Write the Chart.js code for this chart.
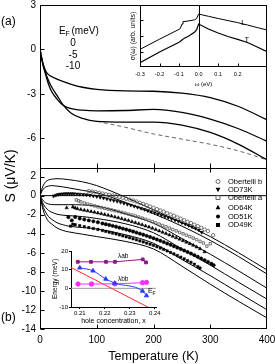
<!DOCTYPE html>
<html>
<head>
<meta charset="utf-8">
<script src="https://cdn.jsdelivr.net/npm/chart.js@4.4.1/dist/chart.umd.min.js"></script>
<style>
  html, body { margin: 0; padding: 0; background: #fff; }
  #wrap { position: relative; width: 275px; height: 364px; overflow: hidden; }
  canvas { position: absolute; }
  #main { left: 0; top: 0; }
  #insA { left: 125px; top: 0; }
  #insB { left: 40px; top: 240px; }
</style>
</head>
<body>
<div id="wrap">
  <canvas id="main" width="275" height="364" style="width:275px;height:364px"></canvas>
  <canvas id="insA" width="150" height="90" style="width:150px;height:90px"></canvas>
  <canvas id="insB" width="130" height="88" style="width:130px;height:88px"></canvas>
</div>
<script>
// ---- panel (a): theory curves, E_F = 0, -5, -10 meV
const T_A = [0, 3, 6, 10, 15, 20, 30, 40, 55, 75, 100, 150, 200, 250, 300, 350, 400];
const SA_0 = [0, -0.6, -1.05, -1.45, -1.7, -1.82, -2.0, -2.15, -2.35, -2.55, -2.7, -2.8, -2.82, -2.95, -3.25, -3.85, -4.75];
const SA_5 = [0, -0.6, -1.15, -1.7, -2.35, -2.8, -3.35, -3.75, -4.0, -4.1, -4.14, -4.12, -4.05, -4.25, -4.7, -5.35, -6.2];
const SA_10 = [0, -0.6, -1.1, -1.6, -2.1, -2.5, -3.1, -3.7, -4.3, -4.65, -4.85, -4.9, -4.9, -5.1, -5.6, -6.4, -7.45];
const T_DASH = [100, 150, 200, 250, 300, 350, 400];
const S_DASH = [-4.85, -5.25, -5.7, -6.05, -6.4, -6.85, -7.45];

// ---- panel (b): fitted curves
const T_B = [0, 3, 6, 10, 15, 20, 30, 40, 50, 75, 100, 150, 200, 250, 300, 350, 400];
const SB_1 = [0, 0.65, 1.1, 1.45, 1.65, 1.72, 1.78, 1.75, 1.68, 1.45, 1.05, -0.15, -1.5, -2.85, -4.3, -6.0, -7.8];
const SB_2 = [0, 0.4, 0.7, 0.9, 1.0, 1.05, 1.0, 0.92, 0.82, 0.55, 0.3, -0.7, -1.9, -3.2, -4.7, -6.4, -8.23];
const SB_3 = [0, -0.3, -0.55, -0.75, -0.88, -0.93, -0.95, -0.95, -0.95, -0.98, -1.1, -1.9, -2.9, -4.5, -6.15, -7.9, -9.72];
const SB_4 = [0, -0.5, -0.9, -1.25, -1.55, -1.72, -1.95, -2.05, -2.1, -2.2, -2.4, -2.95, -3.9, -5.6, -7.3, -9.1, -10.86];
const SB_5 = [0, -0.7, -1.25, -1.75, -2.2, -2.45, -2.85, -3.05, -3.2, -3.35, -3.5, -4.1, -5.0, -6.7, -8.4, -10.2, -11.98];
const SB_6 = [0, -0.9, -1.6, -2.2, -2.7, -2.95, -3.4, -3.65, -3.8, -4.05, -4.3, -4.8, -5.6, -7.4, -9.3, -11.1, -12.84];
const ZERO_T = [0, 400];
const ZERO_S = [0, 0];

// ---- panel (b): measured thermopower
const T_OBB = [86, 92, 98, 104, 110, 116, 122, 128, 134, 140, 146, 152, 158, 164, 170, 176, 182, 188, 194, 200, 206, 212, 218, 224, 230, 236, 242, 248, 254, 260, 266, 272, 278, 284, 290, 296, 305];
const S_OBB = [0.48, 0.42, 0.37, 0.30, 0.22, 0.15, 0.08, 0.02, -0.07, -0.15, -0.22, -0.33, -0.42, -0.52, -0.62, -0.76, -0.88, -1.0, -1.15, -1.28, -1.42, -1.55, -1.68, -1.85, -1.98, -2.12, -2.28, -2.42, -2.58, -2.75, -2.88, -3.05, -3.2, -3.38, -3.55, -3.72, -4.15];
const T_73 = [24, 28, 32, 36, 40, 44, 48, 52, 56, 60, 65, 70, 76, 82, 88, 94, 100, 106, 112, 118, 124, 130, 136, 142, 148, 154, 160, 166, 172, 178, 184, 190, 196, 202, 208, 214, 220, 226, 232, 238, 244, 250, 256, 262, 268, 274, 280, 285];
const S_73 = [-0.05, 0.05, 0.12, 0.16, 0.18, 0.2, 0.21, 0.2, 0.2, 0.19, 0.17, 0.15, 0.12, 0.08, 0.03, -0.03, -0.1, -0.18, -0.26, -0.34, -0.43, -0.52, -0.6, -0.7, -0.8, -0.9, -1.0, -1.11, -1.22, -1.33, -1.44, -1.56, -1.68, -1.8, -1.92, -2.05, -2.18, -2.3, -2.44, -2.57, -2.7, -2.84, -2.98, -3.12, -3.27, -3.42, -3.6, -3.85];
const T_OBA = [64, 68, 72, 78, 84, 90, 96, 102, 108, 114, 120, 126, 132, 138, 144, 150, 156, 162, 168, 174, 180, 186, 192, 198, 204, 210, 216, 222, 228, 234, 240, 246, 252, 258, 264, 270, 276, 282, 288, 294, 300];
const S_OBA = [-0.45, -0.55, -0.65, -0.78, -0.88, -0.98, -1.08, -1.18, -1.26, -1.34, -1.42, -1.5, -1.58, -1.66, -1.75, -1.84, -1.94, -2.04, -2.14, -2.25, -2.36, -2.48, -2.6, -2.73, -2.86, -2.99, -3.13, -3.27, -3.41, -3.56, -3.7, -3.85, -4.0, -4.15, -4.3, -4.46, -4.62, -4.8, -4.98, -5.3, -5.05];
const T_64 = [47, 58, 62, 66, 72, 78, 84, 90, 96, 102, 108, 114, 120, 126, 132, 138, 144, 150, 156, 162, 168, 174, 180, 186, 192, 198, 204, 210, 216, 222, 228, 234, 240, 246, 252, 258, 264, 270, 276, 282, 290];
const S_64 = [-1.28, -1.2, -1.3, -1.38, -1.46, -1.53, -1.6, -1.67, -1.74, -1.82, -1.9, -1.98, -2.06, -2.15, -2.24, -2.33, -2.42, -2.52, -2.62, -2.73, -2.84, -2.95, -3.06, -3.18, -3.3, -3.43, -3.56, -3.7, -3.84, -3.98, -4.12, -4.27, -4.42, -4.57, -4.73, -4.89, -5.05, -5.22, -5.4, -5.58, -5.9];
const T_51 = [50, 56, 62, 70, 78, 86, 94, 102, 110, 116, 122, 128, 134, 140, 146, 152, 158, 164, 170, 176, 182, 188, 194, 200, 206, 212, 218, 224, 230, 236, 242, 248, 254, 260, 266, 272, 278, 284, 290, 296, 302, 306];
const S_51 = [-2.26, -2.6, -2.25, -2.4, -2.5, -2.6, -2.7, -2.8, -2.92, -3.0, -3.08, -3.17, -3.26, -3.36, -3.46, -3.56, -3.66, -3.77, -3.88, -3.99, -4.1, -4.22, -4.34, -4.47, -4.6, -4.74, -4.88, -5.02, -5.16, -5.31, -5.46, -5.61, -5.76, -5.92, -6.08, -6.25, -6.42, -6.6, -6.78, -6.96, -7.15, -7.3];
const T_49 = [54, 58, 62, 70, 78, 86, 94, 102, 110, 116, 122, 128, 134, 140, 146, 152, 158, 164, 170, 176, 182, 188, 194, 200, 206, 212, 218, 224, 230, 236, 242, 248, 254, 260, 266, 272, 278, 282];
const S_49 = [-3.2, -3.0, -3.05, -3.15, -3.25, -3.35, -3.45, -3.55, -3.66, -3.75, -3.84, -3.93, -4.02, -4.12, -4.22, -4.32, -4.42, -4.53, -4.64, -4.75, -4.86, -4.98, -5.1, -5.22, -5.36, -5.5, -5.65, -5.8, -5.96, -6.12, -6.29, -6.46, -6.64, -6.82, -7.0, -7.2, -7.45, -7.6];
const SAMPLES = ['Obertelli b', 'OD73K', 'Obertelli a', 'OD64K', 'OD51K', 'OD49K'];

// ---- inset (a): optical conductivity
const W_L = [-0.3, -0.2, -0.1, -0.094, -0.085, -0.08, -0.05, -0.02, -0.01, 0, 0.05, 0.1, 0.15, 0.2, 0.25, 0.3, 0.35];
const SIG_L = [1.16, 1.8, 2.42, 2.47, 2.75, 2.9, 2.95, 3.02, 3.1, 3.38, 3.24, 3.1, 2.97, 2.84, 2.69, 2.53, 2.38];
const W_T = [-0.3, -0.2, -0.1, -0.09, -0.075, -0.05, -0.02, -0.01, 0, 0.05, 0.1, 0.15, 0.2, 0.25, 0.3, 0.35];
const SIG_T = [0.32, 0.99, 1.6, 1.7, 1.85, 2.0, 2.25, 2.4, 2.75, 2.44, 2.19, 1.97, 1.79, 1.59, 1.31, 1.01];

// ---- inset (b): energies vs hole concentration
const X_AB = [0.2092, 0.2145, 0.2205, 0.2241, 0.2352, 0.2365];
const E_AB = [14.2, 14.2, 14.2, 14.2, 15.5, 13.9];
const X_BB = [0.2093, 0.2147, 0.224, 0.2351, 0.2367];
const E_BB = [2.3, 2.3, 2.4, 3.0, 3.2];
const X_EF = [0.21, 0.2153, 0.2204, 0.224, 0.2351, 0.2367];
const E_EF = [11.0, 9.4, 5.0, 2.8, -1.4, -3.9];
const X_RED = [0.2065, 0.2372];
const E_RED = [11.2, -10];
const X_ZERO = [0.2065, 0.2405];
const E_ZERO = [0, 0];

// ---- ticks
const T_TICKS = [0, 100, 200, 300, 400];
const A_TICKS = [3, 0, -3, -6];
const B_TICKS = [2, 0, -2, -4, -6, -8, -10, -12, -14];
const W_TICKS = [-0.3, -0.2, -0.1, 0, 0.1, 0.2];
const SIG_TICKS = [1, 2, 3];
const XB_TICKS = [0.21, 0.22, 0.23, 0.24];
const EB_TICKS = [-10, 0, 10, 20];

const FONT = "'Liberation Sans', Arial, Helvetica, sans-serif";
Chart.defaults.font.family = FONT;
Chart.defaults.color = '#000';
Chart.defaults.animation = false;

const xy = (xs, ys) => xs.map((x, i) => ({ x, y: ys[i] }));
const setTicks = (vals) => (s) => { s.ticks = vals.map((v) => ({ value: v })); };
const fix = (w, h) => (s) => {
  if (w != null) s.width = w;
  if (h != null) s.height = h;
  s.paddingLeft = s.paddingRight = s.paddingTop = s.paddingBottom = 0;
};

const curve = (label, xs, ys, axis, extra) => Object.assign({
  label, data: xy(xs, ys), yAxisID: axis, showLine: true,
  borderColor: '#000', borderWidth: 1, pointRadius: 0,
  cubicInterpolationMode: 'monotone',
}, extra);

const STYLE = {
  'Obertelli b': { pointStyle: 'circle', rotation: 0, open: true },
  'OD73K': { pointStyle: 'triangle', rotation: 180, open: false },
  'Obertelli a': { pointStyle: 'rect', rotation: 0, open: true },
  'OD64K': { pointStyle: 'triangle', rotation: 0, open: false },
  'OD51K': { pointStyle: 'circle', rotation: 0, open: false },
  'OD49K': { pointStyle: 'rect', rotation: 0, open: false },
};
const marks = (label, xs, ys) => {
  const st = STYLE[label];
  return {
    label, data: xy(xs, ys), yAxisID: 'yb', showLine: false,
    pointStyle: st.pointStyle, pointRotation: st.rotation,
    pointRadius: st.pointStyle === 'triangle' ? 2 : 1.7,
    pointBorderWidth: st.open ? 0.8 : 0.5,
    pointBorderColor: st.open ? '#555' : '#000',
    pointBackgroundColor: st.open ? 'rgba(0,0,0,0)' : '#000',
  };
};

function marker(ctx, style, x, y, r) {
  ctx.save();
  ctx.translate(x, y);
  if (style.rotation) ctx.rotate(style.rotation * Math.PI / 180);
  ctx.beginPath();
  if (style.pointStyle === 'circle') ctx.arc(0, 0, r, 0, Math.PI * 2);
  else if (style.pointStyle === 'rect') ctx.rect(-r, -r, 2 * r, 2 * r);
  else { ctx.moveTo(0, -r * 1.15); ctx.lineTo(r, r * 0.75); ctx.lineTo(-r, r * 0.75); ctx.closePath(); }
  if (style.open) { ctx.strokeStyle = '#444'; ctx.lineWidth = 0.8; ctx.stroke(); }
  else { ctx.fillStyle = '#000'; ctx.fill(); }
  ctx.restore();
}

function text(ctx, s, x, y, size, align, rot) {
  ctx.save();
  ctx.font = size + 'px ' + FONT;
  ctx.fillStyle = '#000';
  ctx.textAlign = align || 'left';
  ctx.textBaseline = 'middle';
  ctx.translate(x, y);
  if (rot) ctx.rotate(rot);
  ctx.fillText(s, 0, 0);
  ctx.restore();
}

const mainDecor = {
  id: 'mainDecor',
  afterDatasetsDraw(chart) {
    const { ctx, chartArea: a, scales: { x, ya, yb } } = chart;
    const L = Math.round(a.left) + 0.5, R = Math.round(a.right) - 0.5;
    const T = Math.round(a.top) + 0.5, B = Math.round(a.bottom) - 0.5;
    const sep = Math.round(ya.bottom) + 0.5;
    const seg = (x1, y1, x2, y2) => { ctx.beginPath(); ctx.moveTo(x1, y1); ctx.lineTo(x2, y2); ctx.stroke(); };
    ctx.save();
    ctx.strokeStyle = '#000';
    ctx.lineWidth = 1;
    ctx.strokeRect(L, T, R - L, B - T);
    seg(L, sep, R, sep);
    T_TICKS.slice(1, -1).forEach((v) => {
      const px = Math.round(x.getPixelForValue(v)) + 0.5;
      seg(px, sep - 5, px, sep + 4);
      seg(px, B, px, B - 4);
    });
    A_TICKS.forEach((v) => { const py = Math.round(ya.getPixelForValue(v)) + 0.5; seg(L, py, L + 4, py); });
    B_TICKS.forEach((v) => { const py = Math.round(yb.getPixelForValue(v)) + 0.5; seg(L, py, L + 4, py); });
    ctx.restore();

    text(ctx, '(a)', 1, 21.5, 12);
    text(ctx, '(b)', 1, 318, 12);
    text(ctx, 'S (μV/K)', 11, 176, 14, 'center', -Math.PI / 2);
    text(ctx, 'E', 59, 31.5, 10);
    text(ctx, 'F', 65.5, 34.5, 7);
    text(ctx, '(meV)', 71.5, 31.5, 10);
    ['0', '-5', '-10'].forEach((s, i) => text(ctx, s, 73, 43.3 + i * 11.7, 10, 'center'));

    const rows = [181.5, 189.5, 197.5, 207.5, 216.5, 225];
    SAMPLES.forEach((name, i) => {
      marker(ctx, STYLE[name], 218, rows[i], STYLE[name].pointStyle === 'triangle' ? 2.4 : 2);
      text(ctx, name, 228, rows[i], 7.5);
    });
  },
};

new Chart(document.getElementById('main'), {
  type: 'scatter',
  data: {
    datasets: [
      marks('Obertelli b', T_OBB, S_OBB),
      marks('OD73K', T_73, S_73),
      marks('Obertelli a', T_OBA, S_OBA),
      marks('OD64K', T_64, S_64),
      marks('OD51K', T_51, S_51),
      marks('OD49K', T_49, S_49),
      curve('E_F = 0', T_A, SA_0, 'ya', { borderWidth: 1.3 }),
      curve('E_F = -5', T_A, SA_5, 'ya', { borderWidth: 1.3 }),
      curve('E_F = -10', T_A, SA_10, 'ya', { borderWidth: 1.3 }),
      curve('dashed', T_DASH, S_DASH, 'ya', { borderColor: '#666', borderDash: [4, 3] }),
      curve('fit 1', T_B, SB_1, 'yb'),
      curve('fit 2', T_B, SB_2, 'yb'),
      curve('fit 3', T_B, SB_3, 'yb'),
      curve('fit 4', T_B, SB_4, 'yb'),
      curve('fit 5', T_B, SB_5, 'yb'),
      curve('fit 6', T_B, SB_6, 'yb'),
      curve('zero', ZERO_T, ZERO_S, 'yb', { cubicInterpolationMode: 'default' }),
    ],
  },
  options: {
    responsive: false,
    animation: false,
    layout: { padding: { top: 5, right: 8, left: 0, bottom: 0 } },
    plugins: { legend: { display: false }, tooltip: { enabled: false } },
    scales: {
      x: {
        type: 'linear', min: 0, max: 400,
        afterBuildTicks: setTicks(T_TICKS), afterFit: fix(null, 35),
        grid: { display: false, drawTicks: false }, border: { display: false },
        ticks: { font: { size: 10 }, padding: 5, maxRotation: 0, autoSkip: false },
        title: { display: true, text: 'Temperature (K)', font: { size: 12.5 }, padding: { top: 0, bottom: 0 } },
      },
      yb: {
        type: 'linear', position: 'left', stack: 'S', stackWeight: 161, min: -14, max: 2.9,
        afterBuildTicks: setTicks(B_TICKS), afterFit: fix(40, null),
        grid: { display: false, drawTicks: false }, border: { display: false },
        ticks: { font: { size: 10 }, padding: 4, autoSkip: false },
      },
      ya: {
        type: 'linear', position: 'left', stack: 'S', stackWeight: 163, min: -8.0, max: 3,
        afterBuildTicks: setTicks(A_TICKS), afterFit: fix(40, null),
        grid: { display: false, drawTicks: false }, border: { display: false },
        ticks: { font: { size: 10 }, padding: 4, autoSkip: false },
      },
    },
  },
  plugins: [mainDecor],
});

const insetADecor = {
  id: 'insetADecor',
  afterDatasetsDraw(chart) {
    const { ctx, chartArea: a, scales: { x, y } } = chart;
    const L = Math.round(a.left) + 0.5, R = Math.round(a.right) - 0.5;
    const T = Math.round(a.top) + 0.5, B = Math.round(a.bottom) - 0.5;
    const seg = (x1, y1, x2, y2) => { ctx.beginPath(); ctx.moveTo(x1, y1); ctx.lineTo(x2, y2); ctx.stroke(); };
    ctx.save();
    ctx.strokeStyle = '#000';
    ctx.lineWidth = 1;
    ctx.strokeRect(L, T, R - L, B - T);
    const x0 = Math.round(x.getPixelForValue(0)) + 0.5;
    seg(x0, T, x0, B);
    W_TICKS.forEach((v) => { const px = Math.round(x.getPixelForValue(v)) + 0.5; seg(px, B, px, B - 3); });
    SIG_TICKS.forEach((v) => { const py = Math.round(y.getPixelForValue(v)) + 0.5; seg(L, py, L + 3, py); });
    ctx.restore();
    text(ctx, 'L', 118.3, 23, 7.5, 'center');
    text(ctx, 'T', 121.7, 40, 7.5, 'center');
  },
};

new Chart(document.getElementById('insA'), {
  type: 'scatter',
  data: {
    datasets: [
      { label: 'L', data: xy(W_L, SIG_L), showLine: true, borderColor: '#000', borderWidth: 1, pointRadius: 0 },
      { label: 'T', data: xy(W_T, SIG_T), showLine: true, borderColor: '#000', borderWidth: 1.2, pointRadius: 0 },
    ],
  },
  options: {
    responsive: false,
    animation: false,
    layout: { padding: { top: 5, right: 8, left: 0, bottom: 0 } },
    plugins: { legend: { display: false }, tooltip: { enabled: false } },
    scales: {
      x: {
        type: 'linear', min: -0.3, max: 0.35,
        afterBuildTicks: setTicks(W_TICKS), afterFit: fix(null, 23),
        grid: { display: false, drawTicks: false }, border: { display: false },
        ticks: { font: { size: 5.5 }, padding: 4, maxRotation: 0, autoSkip: false, callback: (v) => v.toFixed(1) },
        title: { display: true, text: 'ω (eV)', font: { size: 6 }, padding: { top: 0, bottom: 2 } },
      },
      y: {
        type: 'linear', min: 0.05, max: 3.95, afterFit: fix(15, null),
        grid: { display: false, drawTicks: false }, border: { display: false },
        ticks: { display: false },
        title: { display: true, text: 'σ(ω) (arb. units)', font: { size: 6.8 }, padding: { top: 4, bottom: 0 } },
      },
    },
  },
  plugins: [insetADecor],
});

const insetBDecor = {
  id: 'insetBDecor',
  afterDatasetsDraw(chart) {
    const { ctx } = chart;
    text(ctx, 'λab', 78, 16.5, 6.5);
    text(ctx, 'λbb', 78, 39, 6.5);
    text(ctx, 'E', 108, 51, 7);
    text(ctx, 'F', 112.5, 53.5, 5);
  },
};

const axisB = {
  grid: { display: true, drawOnChartArea: false, drawTicks: true, tickLength: 2, color: '#000' },
  border: { display: true, color: '#000', width: 1 },
};

new Chart(document.getElementById('insB'), {
  type: 'scatter',
  data: {
    datasets: [
      { label: 'λab', data: xy(X_AB, E_AB), showLine: true, borderColor: '#8b1a8b', backgroundColor: '#8b1a8b', borderWidth: 1, pointStyle: 'rect', pointRadius: 2 },
      { label: 'E_F', data: xy(X_EF, E_EF), showLine: true, borderColor: '#2a3cff', backgroundColor: '#2a3cff', borderWidth: 1, pointStyle: 'triangle', pointRadius: 2.4, cubicInterpolationMode: 'monotone' },
      { label: 'λbb', data: xy(X_BB, E_BB), showLine: true, borderColor: '#ff2bff', backgroundColor: '#ff2bff', borderWidth: 1, pointStyle: 'circle', pointRadius: 2.2 },
      { label: 'linear', data: xy(X_RED, E_RED), showLine: true, borderColor: '#ff2a2a', borderWidth: 1, pointRadius: 0 },
      { label: 'zero', data: xy(X_ZERO, E_ZERO), showLine: true, borderColor: '#9a9a9a', borderWidth: 1, pointRadius: 0 },
    ],
  },
  options: {
    responsive: false,
    animation: false,
    layout: { padding: { top: 11, right: 14, left: 0, bottom: 0 } },
    plugins: { legend: { display: false }, tooltip: { enabled: false } },
    scales: {
      x: Object.assign({
        type: 'linear', min: 0.2065, max: 0.2405,
        afterBuildTicks: setTicks(XB_TICKS), afterFit: fix(null, 21),
        ticks: { font: { size: 6 }, padding: 0.5, maxRotation: 0, autoSkip: false, callback: (v) => v.toFixed(2) },
        title: { display: true, text: 'hole concentration, x', font: { size: 7 }, padding: { top: 0, bottom: 3 } },
      }, axisB),
      y: Object.assign({
        type: 'linear', min: -10, max: 20,
        afterBuildTicks: setTicks(EB_TICKS), afterFit: fix(31, null),
        ticks: { font: { size: 6 }, padding: 1, autoSkip: false },
        title: { display: true, text: 'Energy (meV)', font: { size: 6.5 }, padding: { top: 11, bottom: 0 } },
      }, axisB),
    },
  },
  plugins: [insetBDecor],
});
</script>
</body>
</html>
